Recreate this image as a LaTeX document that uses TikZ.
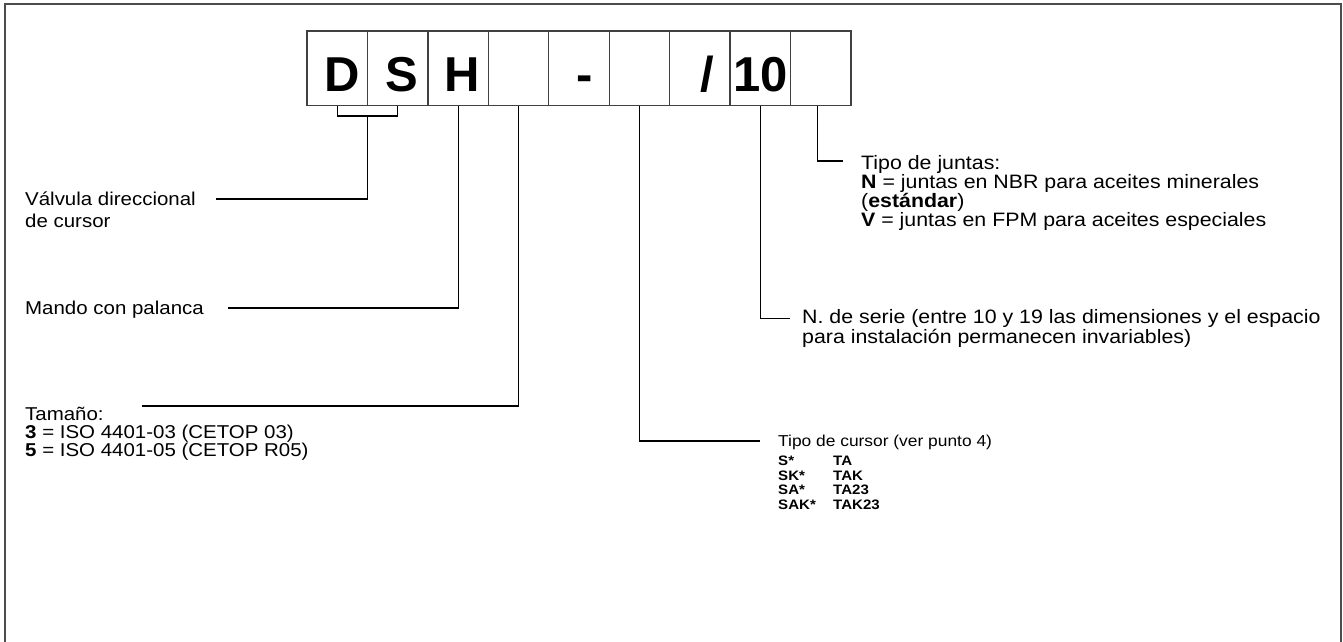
\documentclass[tikz,border=0pt]{standalone}
\usepackage{fontspec}
\setmainfont{Liberation Sans}
\newfontfamily\widefont{Liberation Sans}[FakeStretch=1.1]
\usetikzlibrary{calc}
\begin{document}
\begin{tikzpicture}[x=1pt,y=-1pt,
  frame/.style={draw=black!70,line width=2pt},
  cell/.style={draw=black!75,line width=1.3pt,minimum width=60.44pt,minimum height=74.5pt,anchor=north west,inner sep=0pt,outer sep=0pt},
  big/.style={font=\fontsize{49}{49}\selectfont\bfseries,anchor=base,inner sep=0pt},
  lbl/.style={font=\widefont\fontsize{18.6}{18.6}\selectfont,anchor=base west,inner sep=0pt},
  rlbl/.style={font=\widefont\fontsize{19.4}{19.4}\selectfont,anchor=base west,inner sep=0pt},
  clbl/.style={font=\widefont\fontsize{15.8}{15.8}\selectfont,anchor=base west,inner sep=0pt},
  tbl/.style={font=\widefont\fontsize{13.7}{13.7}\selectfont\bfseries,anchor=base west,inner sep=0pt},
  conn/.style={draw=black,line width=1.2pt},
]
\useasboundingbox (0,0) rectangle (1343,642);
\draw[frame] (5,642) -- (5,4.5) -- (1341,4.5) -- (1341,642);
% code boxes
\foreach \i in {1,...,9} \node[cell] (b\i) at ({307+(\i-1)*60.44},31) {};
\node[big] (tD) at ([xshift=4.5pt,yshift=14.5pt]b1.south) {D};
\node[big] (tS) at ([xshift=4.5pt,yshift=14.5pt]b2.south) {S};
\node[big] (tH) at ([xshift=4pt,yshift=14.5pt]b3.south) {H};
\node[big] (tdash) at ([xshift=6pt,yshift=14.5pt]b5.south) {-};
\node[big] (tslash) at ([xshift=7pt,yshift=14.5pt]b7.south) {/};
\node[big] (t10) at ([yshift=14.5pt]b8.south) {10};
% labels
\node[lbl] (valv1) at (25,205) {Válvula direccional};
\node[lbl] (valv2) at (25,227.5) {de cursor};
\node[lbl] (mando) at (25,314) {Mando con palanca};
\node[lbl] (tam1) at (25,420) {Tamaño:};
\node[lbl] (tam2) at (25,438) {\textbf{3} = ISO 4401-03 (CETOP 03)};
\node[lbl] (tam3) at (25,456) {\textbf{5} = ISO 4401-05 (CETOP R05)};
\node[clbl] (cur) at (778,446) {Tipo de cursor (ver punto 4)};
\node[tbl] (r1a) at (778,465) {S*};
\node[tbl] (r1b) at (833,465) {TA};
\node[tbl] (r2a) at (778,480) {SK*};
\node[tbl] (r2b) at (833,480) {TAK};
\node[tbl] (r3a) at (778,494.5) {SA*};
\node[tbl] (r3b) at (833,494.5) {TA23};
\node[tbl] (r4a) at (778,509) {SAK*};
\node[tbl] (r4b) at (833,509) {TAK23};
\node[rlbl] (ser1) at (802,323.5) {N. de serie (entre 10 y 19 las dimensiones y el espacio};
\node[rlbl] (ser2) at (802,343.5) {para instalación permanecen invariables)};
\node[rlbl] (jun1) at (861,169) {Tipo de juntas:};
\node[rlbl] (jun2) at (861,188) {\textbf{N} = juntas en NBR para aceites minerales};
\node[rlbl] (jun3) at (861,207) {(\textbf{estándar})};
\node[rlbl] (jun4) at (861,226) {\textbf{V} = juntas en FPM para aceites especiales};
% connector ends
\coordinate (brk) at ($(b1.south)!0.5!(b2.south)+(0,10.5)$);
\coordinate (vend) at (216,199);
\coordinate (mend) at (228,308);
\coordinate (tend) at (142,406);
\coordinate (cend) at (760,441);
\coordinate (send) at (790,318.5);
\coordinate (jend) at (843,161);
% connectors
\draw[conn] (b1.south) -- ++(0,10.5) -| (b2.south);
\draw[conn] (brk) |- (vend);
\draw[conn] (b3.south) |- (mend);
\draw[conn] (b4.south) |- (tend);
\draw[conn] (b6.south) |- (cend);
\draw[conn] (b8.south) |- (send);
\draw[conn] ([xshift=-3.5pt]b9.south) |- (jend);
\end{tikzpicture}
\end{document}
